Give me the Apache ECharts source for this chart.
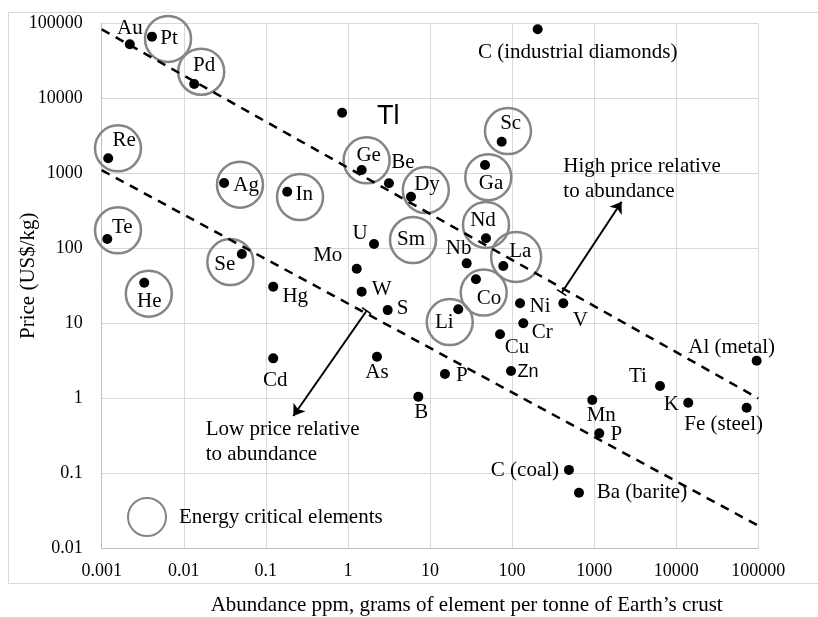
<!DOCTYPE html>
<html>
<head>
<meta charset="utf-8">
<script src="https://cdn.jsdelivr.net/npm/echarts@6/dist/echarts.min.js"></script>
<style>html,body{margin:0;padding:0;background:#fff}#chart{width:818px;height:617px}</style>
</head>
<body>
<div id="chart"></div>
<script>
// ---------- data ----------
const elements = ['Au','Pt','Pd','Tl','Re','Ge','Be','Ag','In','Te','U','Mo','Se','He','Hg','W','S','Cd','As','Dy','Sc','Ga','Nd','Nb','La','Co','C (industrial diamonds)','Ni','V','Li','Cr','Cu','Al (metal)','P','Zn','Ti','B','Mn','K','Fe (steel)','P','Fe (ore)','Al (ore)','C (coal)','Ba (barite)'];
const abundance = [0.0022,0.0041,0.0134,0.85,0.0012,1.47,3.16,0.031,0.182,0.00117,2.08,1.28,0.051,0.0033,0.123,1.47,3.05,0.123,2.26,5.87,74.7,46.8,48.1,28,78.2,36.3,205,125,421,22.1,137,71.3,95500,15.2,97,6340,7.2,948,14000,72100,1154,105000,105000,493,653];
const price = [52500,66400,15500,6430,1585,1107,736,741,569,133,114,53.5,84,34.8,30.8,26.4,15.0,3.41,3.59,488,2640,1290,136,63,58,38.6,83200,18.5,18.5,15.4,10,7.13,3.17,2.11,2.31,1.46,1.05,0.949,0.873,0.75,0.341,0.19,0.1,0.111,0.0551];

// energy critical elements (circle annotation centres)
const eceNames = ['Pt','Pd','Re','Te','Ag','In','Ge','Se','He','Dy','Sm','Sc','Ga','Nd','La','Co','Li'];
const eceAbundance = [0.00643,0.0163,0.00158,0.00158,0.0484,0.261,1.69,0.0369,0.00375,8.89,6.21,89.1,51.3,48.1,112,45.1,17.4];
const ecePrice = [61800,22600,2150,174,705,483,1490,65.6,24.8,598,129,3660,887,205,76.6,25.7,10.4];

// reference lines
const lineAbundance = [0.001, 100000];
const upperLinePrice = [83000, 1];
const lowerLinePrice = [1100, 0.02];

// arrows  [from, to]
const highArrow = [[402, 25.6], [2163, 418]];
const lowArrow = [[1.69, 14.7], [0.216, 0.58]];

// notes
const noteTexts = ['High price relative\nto abundance', 'Low price relative\nto abundance'];
const noteAbundance = [421, 0.0185];
const notePrice = [840, 0.258];

// ticks
const xTickLabels = ['0.001','0.01','0.1','1','10','100','1000','10000','100000'];
const yTickLabels = ['0.01','0.1','1','10','100','1000','10000','100000'];

// ---------- presentation ----------
const labelOffsets = [[0,-16],[17,2],[10,-19],[46,4],[16,-18],[7,-15],[14,-21],[22,2],[17,3],[15,-12],[-14,-11],[-29,-13],[-17,11],[5,19],[22,10],[20,-2],[15,-2],[2,22],[0,16],[16,-12],[9,-18],[6,18],[-3,-18],[-8,-15],[17,-15],[13,19],[40,23],[20,3],[17,17],[-14,13],[19,9],[17,13],[-25,-13],[17,2],[17,1],[-22,-9],[3,16],[9,15],[-17,2],[-23,17],[17,1],[-44,4],[-40,4],[-44,1],[63,0]];
const SERIF = "'Liberation Serif', 'Times New Roman', 'DejaVu Serif', serif";
const SANS = "'Liberation Sans', Arial, sans-serif";

const pointData = elements.map((n, i) => {
  const item = { name: n, value: [abundance[i], price[i]],
    label: { offset: labelOffsets[i] } };
  if (n === 'Tl') { item.label.fontFamily = SANS; item.label.fontSize = 27; }
  if (n === 'Zn') { item.label.fontFamily = SANS; item.label.fontSize = 18; }
  return item;
});

const eceData = eceNames.map((n, i) => ({
  name: n, value: [eceAbundance[i], ecePrice[i]],
  symbolSize: n === 'La' ? 50 : 46
}));

const barPath = 'path://M0,0M0,4.3L10,4.3L10,5.7L0,5.7ZM10,10';

const chart = echarts.init(document.getElementById('chart'));
chart.setOption({
  backgroundColor: '#fff',
  animation: false,
  textStyle: { fontFamily: SERIF },
  grid: { left: 101.7, right: 59.7, top: 23.3, bottom: 68.7, containLabel: false },
  legend: {
    data: ['Energy critical elements'],
    left: 122, top: 492,
    itemWidth: 40, itemHeight: 38,
    textStyle: { fontFamily: SERIF, fontSize: 21, color: '#000', padding: [0, 0, 0, 7] },
    selectedMode: false
  },
  xAxis: {
    type: 'log', logBase: 10, min: 0.001, max: 100000,
    axisLine: { show: true, lineStyle: { color: '#bfbfbf', width: 1 } },
    axisTick: { show: false },
    splitLine: { show: true, lineStyle: { color: '#d9d9d9', width: 1 } },
    minorTick: { show: false },
    axisLabel: { fontFamily: SERIF, fontSize: 18, color: '#000', margin: 14,
      formatter: v => xTickLabels[Math.round(Math.log10(v)) + 3] }
  },
  yAxis: {
    type: 'log', logBase: 10, min: 0.01, max: 100000,
    axisLine: { show: true, lineStyle: { color: '#bfbfbf', width: 1 } },
    axisTick: { show: false },
    splitLine: { show: true, lineStyle: { color: '#d9d9d9', width: 1 } },
    axisLabel: { fontFamily: SERIF, fontSize: 18, color: '#000', margin: 19,
      formatter: v => yTickLabels[Math.round(Math.log10(v)) + 2] }
  },
  graphic: [
    { type: 'rect', z: -10, shape: { x: 8.5, y: 12.5, width: 830, height: 571 },
      style: { fill: 'none', stroke: '#d9d9d9', lineWidth: 1 } },
    { type: 'text', x: 466.7, y: 605, style: { text: 'Abundance ppm, grams of element per tonne of Earth\u2019s crust',
      fontFamily: SERIF, fontSize: 21, fill: '#000', align: 'center', verticalAlign: 'middle' } },
    { type: 'text', x: 28.3, y: 275.7, rotation: Math.PI / 2, style: { text: 'Price (US$/kg)',
      fontFamily: SERIF, fontSize: 21, fill: '#000', align: 'center', verticalAlign: 'middle' } }
  ],
  series: [
    {
      name: 'Energy critical elements', type: 'scatter', z: 2,
      symbol: 'circle', data: eceData,
      itemStyle: { color: 'rgba(0,0,0,0)', borderColor: '#858585', borderWidth: 2.5, opacity: 1 },
      label: { show: true, position: 'inside', offset: [-2, -1], fontFamily: SERIF, fontSize: 21, color: '#000',
        formatter: p => p.name === 'Sm' ? 'Sm' : '' },
      emphasis: { disabled: true }
    },
    {
      name: 'upper', type: 'line', z: 3, symbol: 'none',
      data: lineAbundance.map((x, i) => [x, upperLinePrice[i]]),
      lineStyle: { color: '#000', width: 2.5, type: [9, 7] }
    },
    {
      name: 'lower', type: 'line', z: 3, symbol: 'none',
      data: lineAbundance.map((x, i) => [x, lowerLinePrice[i]]),
      lineStyle: { color: '#000', width: 2.5, type: [9, 7] }
    },
    {
      name: 'elements', type: 'scatter', z: 4,
      symbol: 'circle', symbolSize: 10, data: pointData,
      itemStyle: { color: '#000', opacity: 1 },
      label: { show: true, position: 'inside', fontFamily: SERIF, fontSize: 21, color: '#000',
        formatter: p => p.name },
      emphasis: { disabled: true }
    },
    {
      name: 'notes', type: 'scatter', z: 4, symbolSize: 0,
      itemStyle: { color: '#000', opacity: 1 },
      data: noteTexts.map((t, i) => ({ name: t, value: [noteAbundance[i], notePrice[i]] })),
      label: { show: true, position: 'inside', align: 'left', verticalAlign: 'middle',
        fontFamily: SERIF, fontSize: 21, lineHeight: 25, color: '#000', formatter: p => p.name },
      markLine: {
        silent: true, animation: false,
        symbol: [barPath, 'arrow'], symbolSize: [11, 11],
        lineStyle: { color: '#000', width: 2, type: 'solid', opacity: 1 },
        label: { show: false },
        data: [
          [{ coord: highArrow[0] }, { coord: highArrow[1] }],
          [{ coord: lowArrow[0] }, { coord: lowArrow[1] }]
        ]
      }
    }
  ]
});
</script>
</body>
</html>
